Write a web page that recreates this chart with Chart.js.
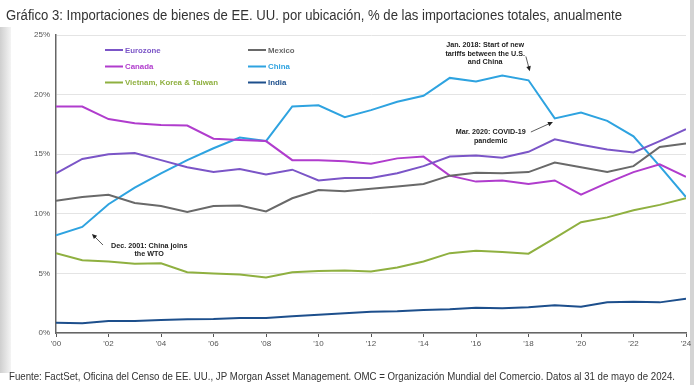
<!DOCTYPE html>
<html>
<head>
<meta charset="utf-8">
<script src="https://cdn.jsdelivr.net/npm/chart.js@4.4.1/dist/chart.umd.min.js"></script>
<style>
html,body{margin:0;padding:0;background:#fff;}
#wrap{width:694px;height:385px;position:relative;}
</style>
</head>
<body>
<div id="wrap"><canvas id="c" width="694" height="385"></canvas></div>
<script>
const years = [2000,2001,2002,2003,2004,2005,2006,2007,2008,2009,2010,2011,2012,2013,2014,2015,2016,2017,2018,2019,2020,2021,2022,2023,2024];
const eurozone = [13.4,14.6,15.0,15.1,14.5,13.9,13.5,13.75,13.3,13.7,12.8,13.0,13.0,13.4,14.0,14.8,14.9,14.7,15.2,16.25,15.8,15.4,15.15,16.1,17.1];
const canada = [19.0,19.0,17.95,17.6,17.45,17.4,16.3,16.2,16.1,14.5,14.5,14.4,14.2,14.65,14.8,13.2,12.7,12.8,12.5,12.8,11.6,12.6,13.5,14.15,13.1];
const vietnamKoreaTaiwan = [6.7,6.1,6.0,5.8,5.85,5.1,5.0,4.9,4.65,5.1,5.2,5.25,5.15,5.5,6.0,6.7,6.9,6.8,6.65,7.95,9.3,9.7,10.3,10.75,11.3];
const mexico = [11.1,11.4,11.6,10.9,10.65,10.15,10.65,10.7,10.2,11.3,12.0,11.9,12.1,12.3,12.5,13.2,13.45,13.4,13.5,14.3,13.9,13.5,14.0,15.6,15.9];
const china = [8.2,8.9,10.8,12.2,13.4,14.5,15.5,16.4,16.1,19.0,19.1,18.1,18.7,19.4,19.9,21.4,21.1,21.6,21.2,18.0,18.5,17.8,16.5,14.0,11.4];
const india = [0.87,0.81,1.0,1.0,1.1,1.15,1.17,1.26,1.26,1.4,1.54,1.65,1.79,1.82,1.93,2.0,2.12,2.07,2.15,2.32,2.2,2.57,2.62,2.57,2.88];
const seriesNames = ["Eurozone","Mexico","Canada","China","Vietnam, Korea & Taiwan","India"];
const yTicks = [0,5,10,15,20,25];
const titleText = "Gráfico 3: Importaciones de bienes de EE. UU. por ubicación, % de las importaciones totales, anualmente";
const footerText = "Fuente: FactSet, Oficina del Censo de EE. UU., JP Morgan Asset Management. OMC = Organización Mundial del Comercio. Datos al 31 de mayo de 2024.";
const annotations = [
  {lines:["Jan. 2018: Start of new","tariffs between the U.S.","and China"], x:2016.35, y:[24.16,23.45,22.78], from:[2017.9,23.2], to:[2018.05,21.96]},
  {lines:["Mar. 2020: COVID-19","pandemic"], x:2016.56, y:[16.83,16.08], from:[2018.09,16.86], to:[2018.93,17.70]},
  {lines:["Dec. 2001: China joins","the WTO"], x:2003.55, y:[7.30,6.63], from:[2001.79,7.38], to:[2001.37,8.31]}
];

const colors = {
  "Eurozone":"#7b55c7","Mexico":"#696969","Canada":"#b03ccd",
  "China":"#2ea3e0","Vietnam, Korea & Taiwan":"#8fb040","India":"#1d4f8c"
};
const seriesData = {
  "Eurozone":eurozone,"Mexico":mexico,"Canada":canada,
  "China":china,"Vietnam, Korea & Taiwan":vietnamKoreaTaiwan,"India":india
};
const drawOrder = ["India","Vietnam, Korea & Taiwan","Mexico","Eurozone","Canada","China"];

const datasets = drawOrder.map(name => ({
  label: name,
  data: seriesData[name].map((v,i)=>({x:years[i], y:v})),
  borderColor: colors[name],
  backgroundColor: colors[name],
  borderWidth: 2,
  pointRadius: 0,
  tension: 0,
  fill: false
}));

function fitText(ctx, text, x, y, width, align){
  const w = ctx.measureText(text).width;
  const s = width / w;
  ctx.save();
  ctx.translate(x, y);
  ctx.scale(s, 1);
  ctx.textAlign = align || 'left';
  ctx.fillText(text, 0, 0);
  ctx.restore();
}

const decor = {
  id:'decor',
  beforeDraw(chart){
    const ctx = chart.ctx;
    ctx.save();
    ctx.fillStyle = '#fff';
    ctx.fillRect(0,0,chart.width,chart.height);
    // left shadow strip
    const g = ctx.createLinearGradient(0,0,11,0);
    g.addColorStop(0,'#cfcfcf'); g.addColorStop(1,'#f4f4f4');
    ctx.fillStyle = g;
    ctx.fillRect(0,27,11,346);
    // right border strip
    ctx.fillStyle = '#d4d4d4';
    ctx.fillRect(690,0,4,385);
    ctx.restore();
  },
  afterDraw(chart){
    const ctx = chart.ctx;
    const xs = chart.scales.x, ys = chart.scales.y;
    ctx.save();
    // title
    ctx.fillStyle = '#333';
    ctx.font = '14px "Liberation Sans", Arial, sans-serif';
    ctx.textBaseline = 'middle';
    fitText(ctx, titleText, 6, 16, 616, 'left');
    // footer
    ctx.fillStyle = '#333';
    ctx.font = '10.5px "Liberation Sans", Arial, sans-serif';
    fitText(ctx, footerText, 9, 377, 666, 'left');

    // legend
    ctx.font = 'bold 8px "Liberation Sans", Arial, sans-serif';
    const sc = 93 / ctx.measureText("Vietnam, Korea & Taiwan").width;
    const cols = [105, 248];
    const rows = [50, 66.5, 82.5];
    seriesNames.forEach((name, i) => {
      const cx = cols[i % 2], cy = rows[Math.floor(i/2)];
      ctx.strokeStyle = colors[name];
      ctx.lineWidth = 2;
      ctx.beginPath(); ctx.moveTo(cx, cy); ctx.lineTo(cx+18, cy); ctx.stroke();
      ctx.fillStyle = colors[name];
      ctx.save(); ctx.translate(cx+20, cy); ctx.scale(sc,1);
      ctx.textAlign='left'; ctx.fillText(name, 0, 0.5); ctx.restore();
    });

    // annotations
    ctx.font = 'bold 7.5px "Liberation Sans", Arial, sans-serif';
    const asc = 78 / ctx.measureText("Jan. 2018: Start of new").width;
    ctx.fillStyle = '#222';
    annotations.forEach(a => {
      const px = xs.getPixelForValue(a.x);
      a.lines.forEach((t, j) => {
        ctx.save(); ctx.translate(px, ys.getPixelForValue(a.y[j])); ctx.scale(asc,1);
        ctx.textAlign='center'; ctx.fillText(t, 0, 0); ctx.restore();
      });
      const x1 = xs.getPixelForValue(a.from[0]), y1 = ys.getPixelForValue(a.from[1]);
      const x2 = xs.getPixelForValue(a.to[0]), y2 = ys.getPixelForValue(a.to[1]);
      const ang = Math.atan2(y2-y1, x2-x1);
      ctx.strokeStyle = '#333'; ctx.lineWidth = 0.8;
      ctx.beginPath(); ctx.moveTo(x1,y1); ctx.lineTo(x2 - 3*Math.cos(ang), y2 - 3*Math.sin(ang)); ctx.stroke();
      ctx.fillStyle = '#222';
      ctx.beginPath();
      ctx.moveTo(x2,y2);
      ctx.lineTo(x2 - 5*Math.cos(ang) + 2.3*Math.sin(ang), y2 - 5*Math.sin(ang) - 2.3*Math.cos(ang));
      ctx.lineTo(x2 - 5*Math.cos(ang) - 2.3*Math.sin(ang), y2 - 5*Math.sin(ang) + 2.3*Math.cos(ang));
      ctx.closePath(); ctx.fill();
    });
    ctx.restore();
  }
};

new Chart(document.getElementById('c'), {
  type:'line',
  data:{datasets},
  options:{
    responsive:false,
    animation:false,
    devicePixelRatio:1,
    layout:{padding:{left:0,right:8,top:35,bottom:32}},
    plugins:{legend:{display:false}, tooltip:{enabled:false}, title:{display:false}},
    scales:{
      x:{
        type:'linear', min:2000, max:2024,
        afterFit(s){ s.height = 20; },
        ticks:{stepSize:2, autoSkip:false, maxRotation:0, padding:2, color:'#555',
          font:{size:8, family:'"Liberation Sans", Arial, sans-serif'},
          callback:(v)=> "'" + String(v).slice(2)},
        grid:{drawOnChartArea:false, drawTicks:true, tickLength:4, color:'#555', lineWidth:1},
        border:{display:true, color:'#666', width:1.5}
      },
      y:{
        min:0, max:25,
        afterFit(s){ s.width = 56; },
        afterBuildTicks(s){ s.ticks = yTicks.map(v=>({value:v})); },
        ticks:{padding:6, color:'#555', font:{size:8, family:'"Liberation Sans", Arial, sans-serif'},
          callback:(v)=> v + '%'},
        grid:{color:'#e4e4e4', lineWidth:1, drawTicks:false},
        border:{display:true, color:'#666', width:1.5}
      }
    }
  },
  plugins:[decor]
});
</script>
</body>
</html>
